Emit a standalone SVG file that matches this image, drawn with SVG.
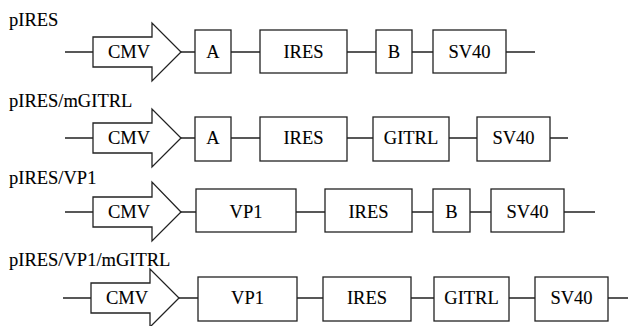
<svg xmlns="http://www.w3.org/2000/svg" width="628" height="326" viewBox="0 0 628 326">
<style>
.bx{fill:#fff;stroke:#222;stroke-width:1.3}
.ln{stroke:#222;stroke-width:1.3;fill:none}
.t{font-family:'Liberation Serif','Times New Roman',serif;font-size:18.5px;text-anchor:middle;fill:#000;stroke:#000;stroke-width:0.12}
.lb{font-family:'Liberation Serif','Times New Roman',serif;font-size:18.5px;fill:#000;stroke:#000;stroke-width:0.12}
</style>
<rect width="628" height="326" fill="#fff"/>
<g id="labels">
<text class="lb" x="9" y="26">pIRES</text>
<text class="lb" x="9" y="107">pIRES/mGITRL</text>
<text class="lb" x="9" y="184">pIRES/VP1</text>
<text class="lb" x="9" y="266">pIRES/VP1/mGITRL</text>
</g>
<g id="connectors">
<path class="ln" d="M65 52H93M181 52H195M231 52H260M347 52H376M412 52H433M506 52H535"/>
<path class="ln" d="M65 138H93M181 138H195M231 138H260M347 138H373M449 138H477M550 138H568"/>
<path class="ln" d="M65 212H93M181 212H196M296 212H325M412 212H433M470 212H491M564 212H595"/>
<path class="ln" d="M63 298H91M179 298H198M297 298H323M411 298H434M509 298H535M608 298H628"/>
</g>
<g id="row1">
<g id="r1-cmv"><polygon class="bx" points="93,37 152,37 152,23 181,52 152,81 152,67 93,67"/><text class="t" x="129" y="58">CMV</text></g>
<g id="r1-a"><rect class="bx" x="195" y="30" width="36" height="43"/><text class="t" x="213" y="58">A</text></g>
<g id="r1-ires"><rect class="bx" x="260" y="30" width="87" height="43"/><text class="t" x="303.5" y="58">IRES</text></g>
<g id="r1-b"><rect class="bx" x="376" y="30" width="36" height="43"/><text class="t" x="394" y="58">B</text></g>
<g id="r1-sv40"><rect class="bx" x="433" y="30" width="73" height="43"/><text class="t" x="469.5" y="58">SV40</text></g>
</g>
<g id="row2">
<g id="r2-cmv"><polygon class="bx" points="93,123 152,123 152,109 181,138 152,167 152,153 93,153"/><text class="t" x="129" y="144">CMV</text></g>
<g id="r2-a"><rect class="bx" x="195" y="117" width="36" height="44"/><text class="t" x="213" y="144">A</text></g>
<g id="r2-ires"><rect class="bx" x="260" y="117" width="87" height="44"/><text class="t" x="303.5" y="144">IRES</text></g>
<g id="r2-gitrl"><rect class="bx" x="373" y="117" width="76" height="44"/><text class="t" x="411" y="144">GITRL</text></g>
<g id="r2-sv40"><rect class="bx" x="477" y="117" width="73" height="44"/><text class="t" x="513.5" y="144">SV40</text></g>
</g>
<g id="row3">
<g id="r3-cmv"><polygon class="bx" points="93,197 152,197 152,182 181,212 152,241 152,227 93,227"/><text class="t" x="129" y="218">CMV</text></g>
<g id="r3-vp1"><rect class="bx" x="196" y="189" width="100" height="43"/><text class="t" x="246" y="218">VP1</text></g>
<g id="r3-ires"><rect class="bx" x="325" y="189" width="87" height="43"/><text class="t" x="368.5" y="218">IRES</text></g>
<g id="r3-b"><rect class="bx" x="433" y="189" width="37" height="43"/><text class="t" x="451.5" y="218">B</text></g>
<g id="r3-sv40"><rect class="bx" x="491" y="189" width="73" height="43"/><text class="t" x="527.5" y="218">SV40</text></g>
</g>
<g id="row4">
<g id="r4-cmv"><polygon class="bx" points="91,283 150,283 150,269 179,298 150,327 150,313 91,313"/><text class="t" x="127" y="304">CMV</text></g>
<g id="r4-vp1"><rect class="bx" x="198" y="277" width="99" height="44"/><text class="t" x="247.5" y="304">VP1</text></g>
<g id="r4-ires"><rect class="bx" x="323" y="277" width="88" height="44"/><text class="t" x="367" y="304">IRES</text></g>
<g id="r4-gitrl"><rect class="bx" x="434" y="277" width="75" height="44"/><text class="t" x="471.5" y="304">GITRL</text></g>
<g id="r4-sv40"><rect class="bx" x="535" y="277" width="73" height="44"/><text class="t" x="571.5" y="304">SV40</text></g>
</g>
</svg>
